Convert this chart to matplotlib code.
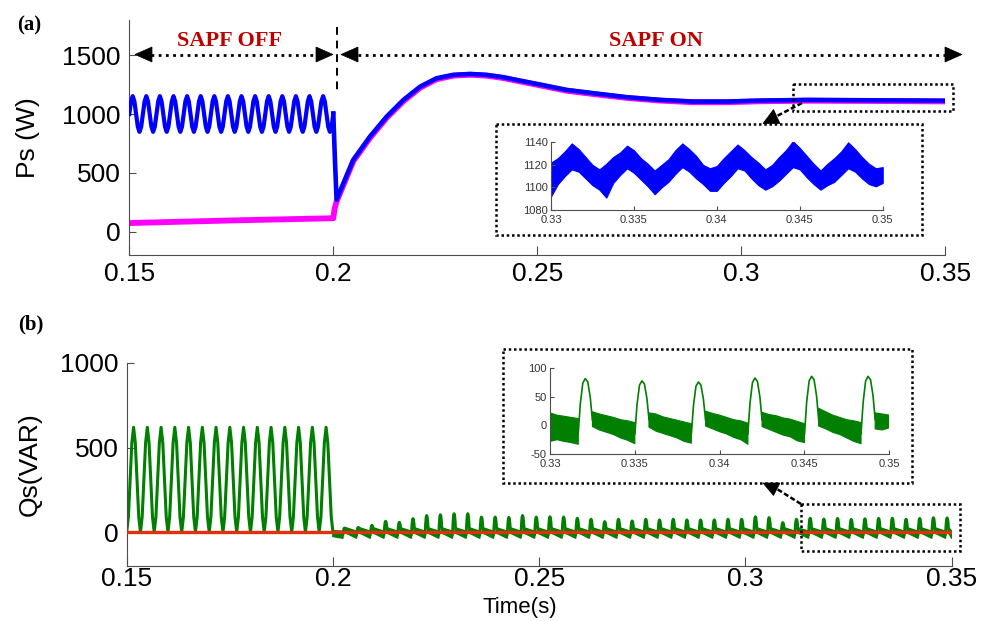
import numpy as np
import matplotlib.pyplot as plt
from matplotlib.patches import Polygon, Rectangle

plt.rcParams['font.family'] = ['Liberation Sans', 'DejaVu Sans']
plt.rcParams['axes.unicode_minus'] = False

W, H = 986, 621

# ---------------- data ----------------
# (a) Ps, SAPF off: one 300 Hz ripple cycle (8 samples), seen 15 times in 0.15..0.2 s
ps_off_cycle = [1000, 1108, 1152, 1108, 1000, 892, 848, 892]
n_cycles = 15

# (a) Ps measured (blue) after the SAPF is switched on
ps_on_t = [0.2000, 0.2004, 0.2008, 0.2049, 0.2090, 0.2131, 0.2172, 0.2213, 0.2253,
           0.2294, 0.2335, 0.2376, 0.2417, 0.2458, 0.2499, 0.2539, 0.2572, 0.2637,
           0.2719, 0.2801, 0.2882, 0.2964, 0.3046, 0.3160, 0.3300, 0.3500]
ps_on = [1005, 610, 270, 610, 808, 978, 1120, 1233, 1304, 1333, 1341, 1333, 1313,
         1284, 1256, 1228, 1205, 1177, 1143, 1120, 1106, 1106, 1114, 1120, 1117, 1113]

# (a) reference power (magenta)
ps_ref_t = [0.15, 0.175, 0.2, 0.2003, 0.2008, 0.2049, 0.2090, 0.2131, 0.2172, 0.2213,
            0.2253, 0.2294, 0.2335, 0.2376, 0.2417, 0.2458, 0.2499, 0.2539, 0.2572,
            0.2637, 0.2719, 0.2801, 0.2882, 0.2964, 0.3046, 0.3160, 0.3300, 0.3500]
ps_ref = [72, 94, 113, 190, 255, 598, 797, 968, 1110, 1224, 1296, 1326, 1334, 1326,
          1306, 1277, 1249, 1221, 1198, 1170, 1137, 1114, 1100, 1100, 1108, 1113, 1111, 1107]

# (b) Qs, SAPF off: one cycle (8 samples)
qs_off_cycle = [0, 91, 310, 529, 620, 529, 310, 91]

# (b) Qs after SAPF on: one pulse per 300 Hz period, peak heights
qs_on_first = 0.2028
qs_on_period = 0.00332
qs_on_peaks = [25, 29, 41, 65, 59, 81, 99, 104, 110, 110, 90, 90, 88, 99, 90, 92, 90,
               83, 77, 63, 77, 67, 77, 73, 77, 73, 73, 73, 77, 77, 92, 87, 57, 77, 83,
               78, 82, 76, 80, 82, 83, 77, 82, 86, 85]
qs_ref_t = [0.15, 0.35]
qs_ref = [0, 0]

# zoom (a): noise band of Ps between 0.33 and 0.35 s
ins_ps_up = [1122, 1126, 1132, 1139, 1134, 1127, 1120, 1116,
             1121, 1127, 1131, 1137, 1133, 1126, 1121, 1115,
             1120, 1125, 1133, 1139, 1134, 1128, 1120, 1117,
             1119, 1126, 1132, 1138, 1133, 1127, 1122, 1116,
             1120, 1127, 1133, 1141, 1135, 1128, 1121, 1115,
             1121, 1126, 1132, 1140, 1134, 1127, 1121, 1117, 1118]
ins_ps_lo = [1092, 1103, 1110, 1116, 1114, 1108, 1102, 1098,
             1091, 1104, 1111, 1117, 1113, 1107, 1101, 1094,
             1100, 1105, 1112, 1118, 1114, 1108, 1103, 1097,
             1097, 1104, 1110, 1117, 1115, 1108, 1102, 1098,
             1101, 1106, 1112, 1118, 1116, 1109, 1103, 1098,
             1102, 1105, 1111, 1117, 1114, 1108, 1103, 1101, 1104]

# zoom (b): noise band of Qs and the pulses between 0.33 and 0.35 s
nan = np.nan
ins_qs_up = [22, 18, 16, 14, 12, nan, 24, 20, 17, 14, 10, 8, 5, nan,
             22, 20, 15, 12, 9, 6, 3, nan, 25, 21, 18, 14, 10, 8, 4, nan,
             23, 19, 17, 13, 11, 7, 3, nan, 30, 24, 18, 14, 10, 8, 5, nan, 22, 20, 18]
ins_qs_lo = [-28, -25, -28, -30, -33, nan, -2, -8, -12, -16, -22, -26, -32, nan,
             -3, -10, -14, -18, -22, -28, -31, nan, -1, -6, -11, -15, -21, -25, -33, nan,
             -2, -7, -12, -17, -20, -27, -30, nan, -1, -6, -12, -16, -22, -28, -32, nan,
             -6, -8, -4]
ins_qs_pulse_t = [0.33208, 0.33542, 0.33875, 0.34208, 0.34542, 0.34875]
ins_qs_pulse = [82, 78, 76, 83, 86, 86]

xticks = [0.15, 0.2, 0.25, 0.3, 0.35]
xticklabels = ['0.15', '0.2', '0.25', '0.3', '0.35']
ins_xticks = [0.33, 0.335, 0.34, 0.345, 0.35]
ins_xticklabels = ['0.33', '0.335', '0.34', '0.345', '0.35']

BLUE = '#0000ff'
MAGENTA = '#ff00ff'
GREEN = '#007f00'
RED = '#e03010'
DARKRED = '#c00000'

# pulse shape (smooth hump), relative units
hump_x = np.array([-1, -0.7, -0.35, 0, 0.35, 0.7, 1])
hump_y = np.array([0, 0.55, 0.92, 1, 0.92, 0.55, 0])


def pulse_train(tp, peaks, hw, lo, hi):
    tt, vv = [], []
    for t, pk in zip(tp, peaks):
        base = np.where(hump_x < 0, lo, hi)
        tt.extend(t + hump_x * hw)
        vv.extend(base + hump_y * (pk - base))
    return np.array(tt), np.array(vv)


def style(ax, fs, xlen, ylen, xpad, ypad, lc='black'):
    for s in ['top', 'right']:
        ax.spines[s].set_visible(False)
    for s in ['left', 'bottom']:
        ax.spines[s].set_color('0.3')
    ax.tick_params(axis='both', direction='in', colors='0.3', labelcolor=lc,
                   labelsize=fs)
    ax.tick_params(axis='x', length=xlen, pad=xpad)
    ax.tick_params(axis='y', length=ylen, pad=ypad)


fig = plt.figure(figsize=(W / 100, H / 100), dpi=100)

# ---------------- (a) ----------------
ax1 = fig.add_axes([129.3 / W, 1 - 255 / H, 816 / W, 235 / H])
t_off = np.linspace(0.15, 0.2, 8 * n_cycles + 1)
ps_off = np.append(np.tile(ps_off_cycle, n_cycles), 1000)
ax1.plot(ps_ref_t, ps_ref, color=MAGENTA, lw=4.2, solid_joinstyle='round', zorder=2)
ax1.plot(t_off, ps_off, color=BLUE, lw=3.0, solid_joinstyle='round', zorder=3)
ax1.plot(ps_on_t, ps_on, color=BLUE, lw=3.3, solid_joinstyle='round', zorder=3)
ax1.set_xlim(0.15, 0.35)
ax1.set_ylim(-200, 1800)
ax1.set_yticks([0, 500, 1000, 1500])
ax1.set_xticks(xticks)
ax1.set_xticklabels(xticklabels)
style(ax1, 19, 6.5, 5, 5, 6)

# ---------------- (b) ----------------
ax2 = fig.add_axes([126.7 / W, 1 - 566 / H, 825 / W, 203 / H])
qs_off = np.append(np.tile(qs_off_cycle, n_cycles), 0)
ax2.plot(t_off, qs_off, color=GREEN, lw=2.2, solid_joinstyle='round', zorder=2)

tp = qs_on_first + qs_on_period * np.arange(len(qs_on_peaks))
hw = 0.0004
pt, pv = pulse_train(tp, qs_on_peaks, hw, -18, 10)
line_t = np.concatenate([[0.2, 0.2005], pt, [0.35]])
line_v = np.concatenate([[0, -12], pv, [-12]])

band_t, band_up, band_lo = [0.2, tp[0] - hw, nan], [8, 5, nan], [-25, -35, nan]
for k in range(len(tp)):
    t_end = min(tp[k] + qs_on_period - hw, 0.35)
    band_t += [tp[k] + hw, t_end, nan]
    band_up += [25, 5, nan]
    band_lo += [-5, -35, nan]
ax2.fill_between(band_t, band_lo, band_up, color=GREEN, lw=1.2, zorder=2)
ax2.plot(line_t, line_v, color=GREEN, lw=2.0, solid_joinstyle='round', zorder=2)
ax2.plot(qs_ref_t, qs_ref, color=RED, lw=2.4, zorder=3)
ax2.set_xlim(0.15, 0.35)
ax2.set_ylim(-200, 1000)
ax2.set_yticks([0, 500, 1000])
ax2.set_xticks(xticks)
ax2.set_xticklabels(xticklabels)
style(ax2, 19, 6.5, 5, 1, 6)

# ---------------- zoom insets ----------------
ins_t = np.linspace(0.33, 0.35, len(ins_ps_up))

axi1 = fig.add_axes([551 / W, 1 - 210 / H, 331.7 / W, 67.7 / H])
axi1.fill_between(ins_t, ins_ps_lo, ins_ps_up, color=BLUE, lw=0.8)
axi1.set_xlim(0.33, 0.35)
axi1.set_ylim(1080, 1140)
axi1.set_yticks([1080, 1100, 1120, 1140])
axi1.set_xticks(ins_xticks)
axi1.set_xticklabels(ins_xticklabels)
style(axi1, 8, 3, 3, 3.5, 2.5, lc='0.2')

axi2 = fig.add_axes([550 / W, 1 - 454 / H, 339.3 / W, 85.7 / H])
axi2.fill_between(ins_t, ins_qs_lo, ins_qs_up, color=GREEN, lw=0.8)
it, iv = pulse_train(ins_qs_pulse_t, ins_qs_pulse, 0.000417, -15, 10)
for j in range(len(ins_qs_pulse_t)):
    axi2.plot(it[7 * j:7 * j + 7], iv[7 * j:7 * j + 7], color=GREEN, lw=1.2)
axi2.set_xlim(0.33, 0.35)
axi2.set_ylim(-50, 100)
axi2.set_yticks([-50, 0, 50, 100])
axi2.set_xticks(ins_xticks)
axi2.set_xticklabels(ins_xticklabels)
style(axi2, 8, 3, 3, 3.5, 2.5, lc='0.2')

# ---------------- annotations (pixel overlay) ----------------
ov = fig.add_axes([0, 0, 1, 1])
ov.set_xlim(0, W)
ov.set_ylim(H, 0)
ov.axis('off')
ov.set_zorder(10)

dots = (0, (1, 1.1))
for x0, y0, x1, y1 in [(496, 124, 922, 235), (793, 84, 953, 111),
                       (503, 349, 912, 483), (801, 504, 960, 551)]:
    ov.add_patch(Rectangle((x0, y0), x1 - x0, y1 - y0, fill=False, ec='black',
                           lw=1.8, ls=dots))


def tri(tip, base_a, base_b):
    ov.add_patch(Polygon([tip, base_a, base_b], closed=True, fc='black', ec='black', lw=0.5))


# SAPF OFF / ON double arrows
yA = 54.5
ov.plot([151, 317], [yA, yA], color='black', lw=2, ls=(0, (1, 1.6)))
tri((135, yA), (152, yA - 7.5), (152, yA + 7.5))
tri((333, yA), (316, yA - 7.5), (316, yA + 7.5))
ov.plot([358, 945], [yA, yA], color='black', lw=2, ls=(0, (1, 1.6)))
tri((341, yA), (358, yA - 7.5), (358, yA + 7.5))
tri((962, yA), (945, yA - 7.5), (945, yA + 7.5))
ov.plot([337.3, 337.3], [27, 90], color='black', lw=1.4, ls=(0, (4, 3)))

ov.text(230, 41, 'SAPF OFF', color=DARKRED, fontsize=16, fontweight='bold',
        family='Liberation Serif', ha='center', va='center')
ov.text(656, 41, 'SAPF ON', color=DARKRED, fontsize=16, fontweight='bold',
        family='Liberation Serif', ha='center', va='center')

# zoom pointers
ov.plot([802, 777], [103, 116], color='black', lw=1.8, ls=(0, (2, 1)))
tri((763, 123.5), (780, 123.5), (773.5, 109.5))
ov.plot([801, 777], [504, 489], color='black', lw=1.8, ls=(0, (2, 1)))
tri((763, 483), (780, 483), (773.5, 495.5))

# labels
ov.text(29, 25, '(a)', fontsize=15, fontweight='bold', family='Liberation Serif',
        ha='center', va='center')
ov.text(31, 324, '(b)', fontsize=15, fontweight='bold', family='Liberation Serif',
        ha='center', va='center')
ov.text(28, 137.5, 'Ps (W)', fontsize=19, rotation=90, ha='center', va='center')
ov.text(30, 464.5, 'Qs(VAR)', fontsize=19, rotation=90, ha='center', va='center')
ov.text(520, 607, 'Time(s)', fontsize=16, ha='center', va='center')

fig.savefig('out.png', dpi=100)
